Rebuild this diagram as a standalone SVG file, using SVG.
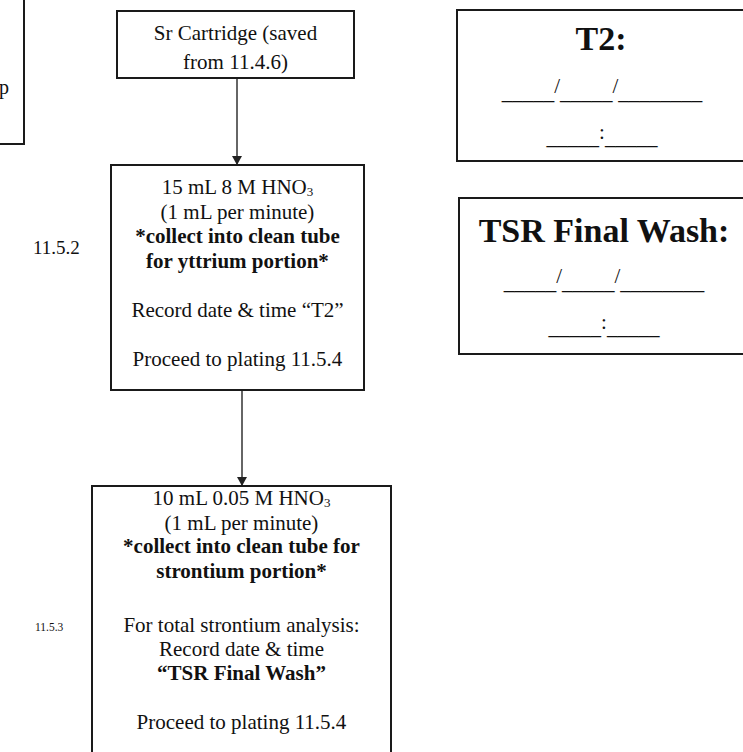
<svg xmlns="http://www.w3.org/2000/svg" width="743" height="752" viewBox="0 0 743 752">
<style>
text{font-family:"Liberation Serif","Times New Roman",serif;fill:#111}
.t{font-size:21px;text-anchor:middle}
.b{font-weight:bold}
.box{fill:#fff;stroke:#1a1a1a;stroke-width:2}
.big{font-size:34px;font-weight:bold;text-anchor:middle}
.side{text-anchor:start}
.conn{stroke:#333;stroke-width:1.5;fill:none;marker-end:url(#ah)}
</style>
<defs>
<marker id="ah" markerUnits="userSpaceOnUse" markerWidth="10" markerHeight="10" refX="9" refY="5" orient="auto">
<path d="M0,0 L9,5 L0,10 z" fill="#222"/>
</marker>
</defs>
<rect width="743" height="752" fill="#fff"/>

<g id="partial-left">
<rect class="box" x="-20" y="-10" width="44" height="154"/>
<text x="9" y="94" style="font-size:20px;text-anchor:end">p</text>
</g>

<g id="connectors">
<line class="conn" x1="237" y1="78" x2="237" y2="165"/>
<line class="conn" x1="242" y1="390" x2="242" y2="486"/>
</g>

<g id="sr-cartridge">
<rect class="box" x="117" y="11" width="237" height="67"/>
<text class="t" x="235.5" y="40">Sr Cartridge (saved</text>
<text class="t" x="235.5" y="69">from 11.4.6)</text>
</g>

<g id="step-11-5-2">
<rect class="box" x="111" y="165" width="253" height="225"/>
<text class="t" x="237.5" y="194">15 mL 8 M HNO<tspan dy="2" font-size="13">3</tspan></text>
<text class="t" x="237.5" y="219">(1 mL per minute)</text>
<text class="t b" x="237.5" y="243">*collect into clean tube</text>
<text class="t b" x="237.5" y="268">for yttrium portion*</text>
<text class="t" x="237.5" y="317">Record date &amp; time “T2”</text>
<text class="t" x="237.5" y="366">Proceed to plating 11.5.4</text>
</g>
<g id="label-11-5-2">
<text class="side" x="33" y="254" style="font-size:19px">11.5.2</text>
</g>

<g id="step-11-5-3">
<rect class="box" x="92" y="486" width="299" height="280"/>
<text class="t" x="241.5" y="505">10 mL 0.05 M HNO<tspan dy="2" font-size="13">3</tspan></text>
<text class="t" x="241.5" y="530">(1 mL per minute)</text>
<text class="t b" x="241.5" y="553">*collect into clean tube for</text>
<text class="t b" x="241.5" y="578">strontium portion*</text>
<text class="t" x="241.5" y="632">For total strontium analysis:</text>
<text class="t" x="241.5" y="656">Record date &amp; time</text>
<text class="t b" x="241.5" y="680">“TSR Final Wash”</text>
<text class="t" x="241.5" y="729">Proceed to plating 11.5.4</text>
</g>
<g id="label-11-5-3">
<text class="side" x="35" y="631" style="font-size:11.5px">11.5.3</text>
</g>

<g id="t2-box">
<rect class="box" x="457" y="10" width="290" height="151"/>
<text class="big" x="601" y="50">T2:</text>
<text class="t" x="602" y="99">_____<tspan dy="-6">/</tspan><tspan dy="6">_____</tspan><tspan dy="-6">/</tspan><tspan dy="6">________</tspan></text>
<text class="t" x="602" y="144">_____<tspan dy="-5">:</tspan><tspan dy="5">_____</tspan></text>
</g>

<g id="tsr-box">
<rect class="box" x="459" y="198" width="290" height="156"/>
<text class="big" x="604" y="242">TSR Final Wash:</text>
<text class="t" x="604" y="289">_____<tspan dy="-6">/</tspan><tspan dy="6">_____</tspan><tspan dy="-6">/</tspan><tspan dy="6">________</tspan></text>
<text class="t" x="604" y="334">_____<tspan dy="-5">:</tspan><tspan dy="5">_____</tspan></text>
</g>
</svg>
